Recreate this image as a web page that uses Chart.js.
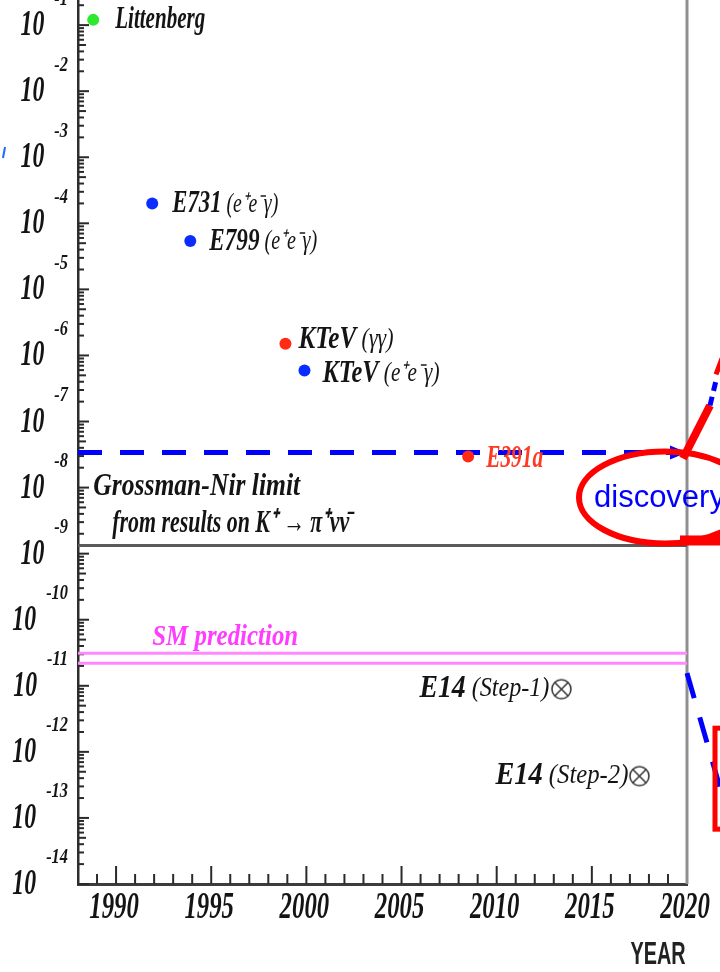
<!DOCTYPE html>
<html>
<head>
<meta charset="utf-8">
<script src="https://cdn.jsdelivr.net/npm/chart.js@4.4.1/dist/chart.umd.min.js"></script>
<style>
    html, body { margin: 0; padding: 0; background: #fff; }
    #wrap { position: relative; width: 720px; height: 972px; }
</style>
</head>
<body>
<div id="wrap"><canvas id="chartKL"></canvas></div>
<script>
(function() {
    'use strict';

    // axis ranges and ticks
    var xMin = 1988, xMax = 2020;
    var yMin = 1e-14, yMax = Math.pow(10, -0.62);
    var xTickYears = [1990, 1995, 2000, 2005, 2010, 2015, 2020];
    var yTickExponents = [-14, -13, -12, -11, -10, -9, -8, -7, -6, -5, -4, -3, -2, -1];

    // measured upper limits
    var expNames  = ['Littenberg', 'E731', 'E799', 'KTeV', 'KTeV', 'E391a'];
    var expModes  = ['', ' (e\u207Ae\u207B\u03B3)', ' (e\u207Ae\u207B\u03B3)', ' (\u03B3\u03B3)', ' (e\u207Ae\u207B\u03B3)', ''];
    var expYears  = [1988.8, 1991.9, 1993.9, 1998.9, 1999.9, 2008.5];
    var expLimits = [1.2e-1, 2.0e-4, 5.4e-5, 1.5e-6, 5.9e-7, 2.95e-8];

    // future sensitivity
    var e14Names = ['E14', 'E14'];
    var e14Steps = [' (Step-1)', ' (Step-2)'];
    var e14Years = [2013.4, 2017.5];
    var e14Reach = [8.9e-12, 4.3e-13];

    // horizontal references
    var grossmanNir = 1.33e-9;
    var smBand = [3.1e-11, 2.2e-11];
    var discoveryLevel = 3.4e-8;

    // styles (kept apart from the data)
    var expColors = ['#2ee82e', '#0b2cff', '#0b2cff', '#ff2b14', '#0b2cff', '#ff2b14'];
    var expLabelBox = [[22, 0, 90], [20, 1, 106], [19, 1, 108], [13, -4, 95], [18, 3, 117], [18, 2, 57]];
    var e14LabelBox = [[-12, 0, 130], [-11, 0, 133]];
    var serifB = 'bold italic 31px "Liberation Serif", serif';
    var serifI = 'italic 27px "Liberation Serif", serif';
    var ink = '#141414';

    function drawParts(ctx, parts, x, y, width, align) {
        var total = 0, i;
        for (i = 0; i < parts.length; i++) {
            ctx.font = parts[i].font;
            parts[i].w = ctx.measureText(parts[i].text).width;
            total += parts[i].w;
        }
        var s = width / total;
        var x0 = align === 'right' ? x - width : (align === 'center' ? x - width / 2 : x);
        ctx.save();
        ctx.translate(x0, y);
        ctx.scale(s, 1);
        ctx.textAlign = 'left';
        ctx.textBaseline = 'middle';
        var cx = 0;
        for (i = 0; i < parts.length; i++) {
            ctx.font = parts[i].font;
            ctx.fillStyle = parts[i].color;
            ctx.fillText(parts[i].text, cx, 0);
            cx += parts[i].w;
        }
        ctx.restore();
    }

    function drawSquashed(ctx, text, font, color, x, y, sx, align, baseline) {
        ctx.save();
        ctx.font = font;
        var w = ctx.measureText(text).width * sx;
        var x0 = align === 'right' ? x - w : (align === 'center' ? x - w / 2 : x);
        ctx.translate(x0, y);
        ctx.scale(sx, 1);
        ctx.textAlign = 'left';
        ctx.textBaseline = baseline || 'middle';
        ctx.fillStyle = color;
        ctx.fillText(text, 0, 0);
        ctx.restore();
        return w;
    }

    function seg(ctx, x1, y1, x2, y2) {
        ctx.beginPath();
        ctx.moveTo(x1, y1);
        ctx.lineTo(x2, y2);
        ctx.stroke();
    }

    function makeOtimes(r) {
        var c = document.createElement('canvas');
        var s = Math.ceil(2 * r + 4);
        c.width = s; c.height = s;
        var g = c.getContext('2d');
        g.strokeStyle = '#3a3a3a';
        g.lineWidth = 1.6;
        g.beginPath();
        g.arc(s / 2, s / 2, r, 0, 2 * Math.PI);
        g.stroke();
        var d = r * 0.68;
        g.beginPath();
        g.moveTo(s / 2 - d, s / 2 - d); g.lineTo(s / 2 + d, s / 2 + d);
        g.moveTo(s / 2 + d, s / 2 - d); g.lineTo(s / 2 - d, s / 2 + d);
        g.stroke();
        return c;
    }

    function flat(v) { return [{ x: xMin, y: v }, { x: xMax, y: v }]; }

    var framePlugin = {
        id: 'framePlugin',
        beforeDatasetsDraw: function(chart) {
            var ctx = chart.ctx, a = chart.chartArea;
            var xs = chart.scales.x, ys = chart.scales.y;
            ctx.save();
            // right frame
            ctx.strokeStyle = '#8f8f8f';
            ctx.lineWidth = 3;
            seg(ctx, a.right, 0, a.right, a.bottom);
            // inward ticks
            ctx.strokeStyle = '#2a2a2a';
            ctx.lineWidth = 2;
            for (var yr = xMin + 1; yr < xMax; yr++) {
                var px = xs.getPixelForValue(yr);
                seg(ctx, px, a.bottom, px, a.bottom - (yr % 5 === 0 ? 18 : 10));
            }
            for (var i = 0; i < yTickExponents.length; i++) {
                for (var m = 1; m <= 9; m++) {
                    var v = m * Math.pow(10, yTickExponents[i]);
                    if (v > yMax) break;
                    var py = ys.getPixelForValue(v);
                    seg(ctx, a.left, py, a.left + (m === 1 ? 11 : (m === 5 ? 8 : 6)), py);
                }
            }
            ctx.restore();
        },
        afterDatasetsDraw: function(chart) {
            var ctx = chart.ctx, a = chart.chartArea;
            var xs = chart.scales.x, ys = chart.scales.y;
            var i, px, py, b;
            // experiment labels
            for (i = 0; i < expNames.length; i++) {
                px = xs.getPixelForValue(expYears[i]);
                py = ys.getPixelForValue(expLimits[i]);
                b = expLabelBox[i];
                var col = expNames[i] === 'E391a' ? '#ff3a22' : ink;
                var parts = [{ text: expNames[i], font: serifB, color: col }];
                if (expModes[i]) parts.push({ text: expModes[i], font: serifI, color: col });
                drawParts(ctx, parts, px + b[0], py + b[1], b[2], 'left');
            }
            for (i = 0; i < e14Names.length; i++) {
                px = xs.getPixelForValue(e14Years[i]);
                py = ys.getPixelForValue(e14Reach[i]);
                b = e14LabelBox[i];
                drawParts(ctx, [
                    { text: e14Names[i], font: serifB, color: ink },
                    { text: e14Steps[i], font: serifI, color: ink }
                ], px + b[0], py + b[1], b[2], 'right');
            }
            // reference line captions
            var gy = ys.getPixelForValue(grossmanNir);
            drawParts(ctx, [{ text: 'Grossman-Nir limit', font: 'bold italic 32px "Liberation Serif", serif', color: ink }],
                xs.getPixelForValue(1988.8), gy - 59, 207, 'left');
            drawParts(ctx, [{ text: 'from results on K\u207A \u2192 \u03C0\u207A\u03BD\u03BD\u0304', font: 'bold italic 32px "Liberation Serif", serif', color: ink }],
                xs.getPixelForValue(1989.8), gy - 22, 237, 'left');
            var sy = ys.getPixelForValue(smBand[0]);
            drawParts(ctx, [{ text: 'SM prediction', font: 'bold italic 30px "Liberation Serif", serif', color: '#ff3cff' }],
                xs.getPixelForValue(1991.9), sy - 16, 146, 'left');

            // y tick labels 10^n
            ctx.save();
            for (i = 0; i < yTickExponents.length; i++) {
                py = ys.getPixelForValue(Math.pow(10, yTickExponents[i]));
                var ew = drawSquashed(ctx, '-' + Math.abs(yTickExponents[i]), 'bold italic 21px "Liberation Serif", serif', ink, 68, py - 26, 0.78, 'right');
                drawSquashed(ctx, '10', 'bold italic 35px "Liberation Serif", serif', ink, 68 - ew - 10, py + 1, 0.68, 'right');
            }
            // x tick labels
            for (i = 0; i < xTickYears.length; i++) {
                px = xs.getPixelForValue(xTickYears[i]);
                drawSquashed(ctx, String(xTickYears[i]), 'bold italic 37px "Liberation Serif", serif', ink, px - 2, a.bottom + 24, 0.67, 'center');
            }
            drawSquashed(ctx, 'YEAR', 'bold 32px "Liberation Sans", sans-serif', '#222', 658, 955, 0.62, 'center');
            ctx.restore();
        },
        afterDraw: function(chart) {
            var ctx = chart.ctx, a = chart.chartArea;
            var ys = chart.scales.y;
            var R = a.right;
            var yd = ys.getPixelForValue(discoveryLevel);
            ctx.save();
            // arrow head of the discovery line
            ctx.fillStyle = '#0000ff';
            ctx.beginPath();
            ctx.moveTo(R, yd);
            ctx.lineTo(R - 17, yd - 7);
            ctx.lineTo(R - 17, yd + 7);
            ctx.closePath();
            ctx.fill();

            // hand-drawn annotations on the right
            ctx.strokeStyle = '#ff0000';
            ctx.lineWidth = 6;
            ctx.beginPath();
            ctx.ellipse(R - 22, yd + 45, 86, 46, 0, 0, 2 * Math.PI);
            ctx.stroke();

            ctx.fillStyle = '#0000ff';
            ctx.font = '31px "Liberation Sans", Arial, sans-serif';
            ctx.textAlign = 'left';
            ctx.textBaseline = 'alphabetic';
            ctx.fillText('discovery', R - 93, yd + 55);

            ctx.lineCap = 'butt';
            ctx.strokeStyle = '#ff0000';
            ctx.lineWidth = 8;
            seg(ctx, R - 4, yd + 6, R + 23, yd - 47);
            ctx.lineWidth = 5;
            seg(ctx, R + 29, yd - 78, R + 35, yd - 94);
            ctx.strokeStyle = '#0000ff';
            ctx.lineWidth = 5;
            ctx.setLineDash([9, 6]);
            seg(ctx, R + 23, yd - 47, R + 30, yd - 76);
            ctx.setLineDash([]);

            ctx.fillStyle = '#ff0000';
            ctx.fillRect(R - 7, yd + 83, 45, 10);

            var sb = ys.getPixelForValue(smBand[1]);
            ctx.strokeStyle = '#0000ff';
            ctx.lineWidth = 5;
            ctx.setLineDash([26, 20]);
            seg(ctx, R, sb + 10, R + 34, sb + 128);
            ctx.setLineDash([]);

            ctx.strokeStyle = '#ff0000';
            ctx.lineWidth = 5;
            ctx.strokeRect(R + 28, sb + 65, 60, 101);

            ctx.strokeStyle = '#1a6cff';
            ctx.lineWidth = 2;
            seg(ctx, 5, 147, 3, 158);
            ctx.restore();
        }
    };

    var ctx1 = document.getElementById('chartKL');
    var expPoints = expYears.map(function(y, i) { return { x: y, y: expLimits[i] }; });
    var e14Points = e14Years.map(function(y, i) { return { x: y, y: e14Reach[i] }; });

    new Chart(ctx1, {
        type: 'scatter',
        data: {
            datasets: [
                {
                    label: 'Upper limits',
                    data: expPoints,
                    backgroundColor: expColors,
                    borderWidth: 0,
                    pointRadius: 6
                },
                {
                    label: 'E14',
                    data: e14Points,
                    pointStyle: makeOtimes(9.5),
                    pointRadius: 10
                },
                {
                    label: 'Discovery',
                    data: flat(discoveryLevel),
                    showLine: true,
                    borderColor: '#0000ff',
                    borderWidth: 5,
                    borderDash: [24, 18],
                    borderCapStyle: 'butt',
                    pointRadius: 0
                },
                {
                    label: 'Grossman-Nir',
                    data: flat(grossmanNir),
                    showLine: true,
                    borderColor: '#5a5a5a',
                    borderWidth: 3,
                    pointRadius: 0
                },
                {
                    label: 'SM upper',
                    data: flat(smBand[0]),
                    showLine: true,
                    borderColor: '#ff88ff',
                    borderWidth: 3,
                    pointRadius: 0
                },
                {
                    label: 'SM lower',
                    data: flat(smBand[1]),
                    showLine: true,
                    borderColor: '#ff88ff',
                    borderWidth: 3,
                    pointRadius: 0
                }
            ]
        },
        options: {
            responsive: true,
            maintainAspectRatio: false,
            animation: false,
            events: [],
            layout: { autoPadding: false, padding: { left: 78, right: 33, top: 0, bottom: 88 } },
            plugins: {
                legend: { display: false },
                tooltip: { enabled: false }
            },
            scales: {
                x: {
                    type: 'linear',
                    min: xMin,
                    max: xMax,
                    ticks: { display: false },
                    grid: { display: false, drawTicks: false },
                    border: { display: true, color: '#3c3c3c', width: 3 }
                },
                y: {
                    type: 'logarithmic',
                    min: yMin,
                    max: yMax,
                    ticks: { display: false },
                    grid: { display: false, drawTicks: false },
                    border: { display: true, color: '#2e2e2e', width: 2.5 }
                }
            }
        },
        plugins: [framePlugin]
    });
})();
</script>
</body>
</html>
